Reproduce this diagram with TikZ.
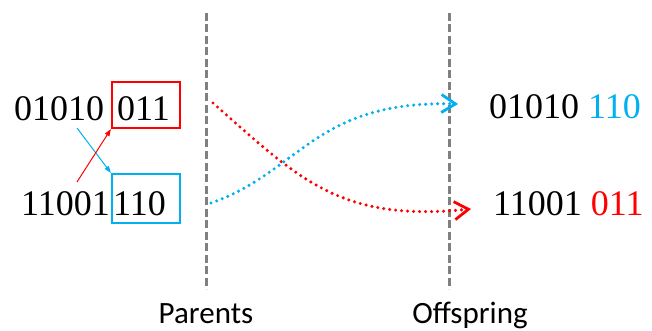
\documentclass[tikz,border=0pt]{standalone}
\usepackage{fontspec}
\setmainfont{Liberation Serif}
\newfontfamily\labelfont{Carlito}
\usetikzlibrary{arrows.meta}
\definecolor{xred}{RGB}{255,0,0}
\definecolor{xblue}{RGB}{0,176,240}
\definecolor{divgray}{RGB}{128,128,128}
\begin{document}
\begin{tikzpicture}[x=1pt,y=-1pt,
  bits/.style={font=\fontsize{36}{36}\selectfont, inner sep=0pt, anchor=base west},
  caption/.style={font=\labelfont\fontsize{31}{31}\selectfont, inner sep=0pt, anchor=base},
  segbox/.style={draw, line width=2.2pt, minimum width=68pt, inner sep=0pt},
  divider/.style={divgray, line width=3pt, dash pattern=on 8pt off 3.5pt},
  swap/.style={line width=1pt, -{Triangle[length=7pt,width=5pt]}},
  flow/.style={line width=3.4pt, line cap=round, dash pattern=on 0pt off 6pt,
    -{Straight Barb[length=14pt,width=18pt,line width=2.8pt]}}
]
\useasboundingbox (0,0) rectangle (652,331);

% column dividers
\coordinate (d1t) at (206,13);
\coordinate (d1b) at (206,289);
\coordinate (d2t) at (449,13);
\coordinate (d2b) at (449,289);
\draw[divider] (d1t) -- (d1b);
\draw[divider] (d2t) -- (d2b);

% parents
\node[bits] (pa) at (14,121) {01010};
\node[bits] (pat) at (117,121) {011};
\node[segbox, xred, minimum height=46pt] (boxa) at (146,105) {};
\node[bits] (pb) at (21,215) {11001};
\node[bits] (pbt) at (113,215) {110};
\node[segbox, xblue, minimum height=49pt] (boxb) at (146,198.5) {};

% tail exchange
\coordinate (sa) at (77,128);
\coordinate (sb) at (77,182);
\draw[swap, xblue] (sa) -- (boxb.north west);
\draw[swap, xred] (sb) -- (boxa.south west);

% offspring
\node[bits] (oa) at (489,119) {01010 \textcolor{xblue}{110}};
\node[bits] (ob) at (493,215) {11001 \textcolor{xred}{011}};

% crossover paths
\coordinate (ra) at (213,103);
\coordinate (rb) at (471,209);
\coordinate (ba) at (211,203);
\coordinate (bb) at (458,104);
\draw[flow, xred] (ra) .. controls (300,180) and (340,222) .. (rb);
\draw[flow, xblue] (ba) .. controls (300,172) and (315,100) .. (bb);

% captions
\node[caption] (lp) at (206,323) {Parents};
\node[caption] (lo) at (470,323) {Offspring};
\end{tikzpicture}
\end{document}
